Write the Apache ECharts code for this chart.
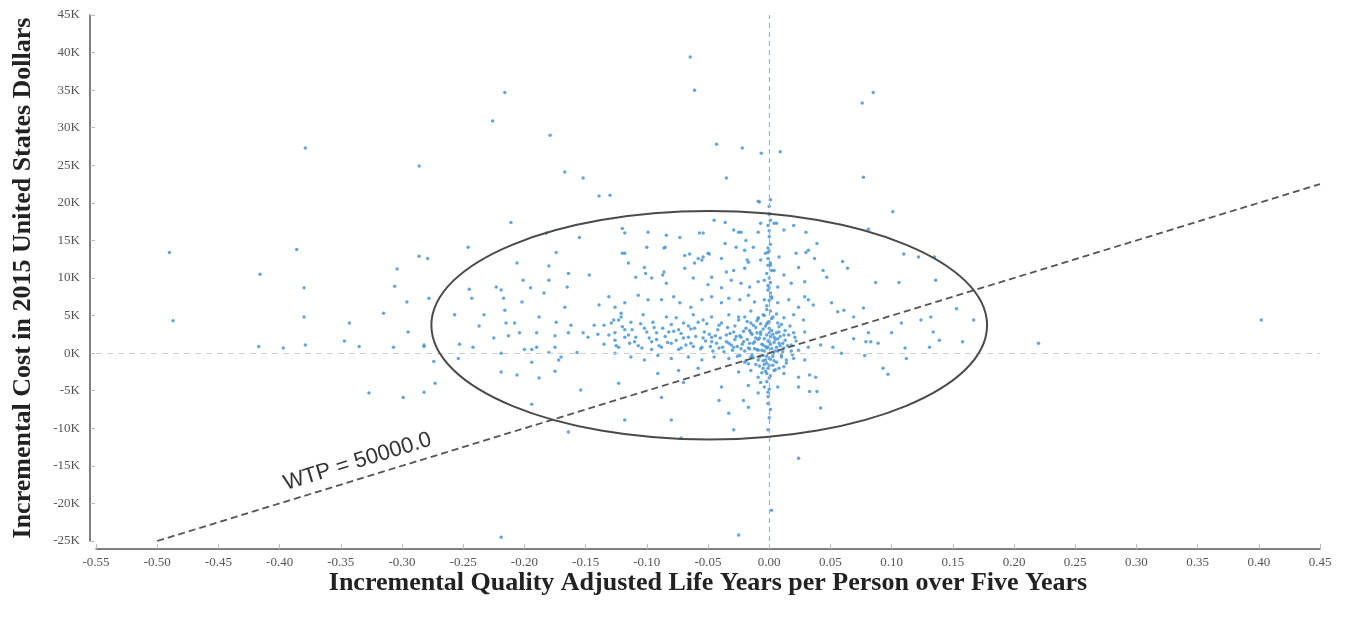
<!DOCTYPE html>
<html><head><meta charset="utf-8">
<script src="https://cdn.jsdelivr.net/npm/echarts@6/dist/echarts.min.js"></script>
<style>html,body{margin:0;padding:0;background:#fff}#c{width:1353px;height:622px}</style>
</head><body><div id="c"></div>
<script>
// ---- axes (min, max, interval) ----
const xAxisRange = [-0.55, 0.45, 0.05];
const yAxisRange = [-25000, 45000, 5000];
const xAxisTitle = 'Incremental Quality Adjusted Life Years per Person over Five Years';
const yAxisTitle = 'Incremental Cost in 2015 United States Dollars';

// ---- willingness-to-pay line ----
const wtpValue = 50000;
const wtpLabel = 'WTP = 50000.0';
const wtpLine = [[-0.50, -25000], [0.45, 22500]];

// ---- confidence ellipse: centre (x, y) and semi-axes (x, y) ----
const ellipseCenter = [-0.049, 3700];
const ellipseRadii = [0.227, 15200];

// ---- scattered simulation results far from the cluster ----
const outerPoints = [
[-0.490,13400],[-0.487,4300],[-0.379,27300],[-0.386,13800],[-0.380,8700],[-0.380,4800],[-0.416,10500],
[-0.417,900],[-0.397,700],[-0.379,1100],[-0.347,1600],[-0.335,900],[-0.307,800],[-0.282,900],[-0.343,4000],
[-0.315,5300],[-0.304,11200],[-0.306,8900],[-0.296,6800],[-0.295,2800],[-0.286,12900],[-0.279,12600],
[-0.327,-5300],[-0.299,-5900],[-0.282,-5200],[-0.286,24900],[-0.226,30900],[-0.216,34700],[-0.179,29000],
[-0.167,24100],[-0.152,23300],[-0.139,20900],[-0.130,21000],[-0.0645,39400],[-0.061,35000],[-0.043,27800],
[-0.022,27300],[-0.0065,26600],[0.009,26800],[-0.035,23300],[-0.009,20200],[0.076,33300],[0.085,34700],
[0.077,23400],[0.101,18800],[0.402,4400],[0.220,1300],[0.081,16500],[0.110,13200],[0.122,12800],[0.135,12800],
[0.087,9400],[0.106,9400],[0.136,9700],[0.153,5900],[0.167,4400],[0.158,1500],[0.139,1700],[0.111,700],
[-0.211,17400],[-0.246,14100],[-0.155,15400],[-0.273,-4000],[-0.274,-1100],[-0.219,-24500],[-0.025,-24200],
[0.002,-20900],[0.024,-14000],[-0.072,-11300],[-0.164,-10500],[-0.194,-6800],[-0.278,7300]
];

// ---- simulation results inside / around the ellipse ----
const leftPoints = [
[-0.174,13400],[-0.206,12000],[-0.180,11600],[-0.164,10600],[-0.147,10400],[-0.201,9700],[-0.180,9700],
[-0.245,8500],[-0.223,8800],[-0.219,8400],[-0.195,8700],[-0.165,8800],[-0.131,7500],[-0.243,7300],[-0.217,7300],
[-0.202,6800],[-0.184,8000],[-0.216,5700],[-0.257,5100],[-0.233,5100],[-0.188,4800],[-0.167,6100],[-0.174,4100],
[-0.139,6400],[-0.121,5300],[-0.237,3600],[-0.215,4000],[-0.208,4000],[-0.162,3700],[-0.143,3700],[-0.135,3700],
[-0.129,4000],[-0.123,4400],[-0.282,1100],[-0.253,1200],[-0.242,800],[-0.225,2000],[-0.213,2300],[-0.204,2700],
[-0.190,2700],[-0.175,2300],[-0.164,2700],[-0.152,2700],[-0.140,2500],[-0.131,2400],[-0.126,1700],[-0.148,2100],
[-0.135,1200],[-0.219,0],[-0.200,500],[-0.194,500],[-0.190,800],[-0.180,100],[-0.175,800],[-0.170,-500],
[-0.157,100],[-0.126,0],[-0.254,-700],[-0.194,-1200],[-0.172,-900],[-0.219,-2500],[-0.206,-2900],[-0.188,-3300],
[-0.175,-2400],[-0.154,-4900],[-0.182,16000]
];
const upperPoints = [
[-0.120,13300],[-0.100,14100],[-0.085,14100],[-0.065,13200],[-0.049,13200],[-0.036,14600],[-0.029,16400],
[-0.120,16600],[-0.073,15400],[-0.054,16000],[-0.045,17700],[-0.036,17400],[-0.023,16100],[-0.007,17300],
[0.004,17300],[-0.115,12000],[-0.101,10600],[-0.087,10400],[-0.061,12000],[-0.054,12800],[-0.029,11000],
[-0.018,12400],[-0.003,13300],[0.001,12000],[-0.008,20100],[0.001,20400],[0,18600],[0.001,17700],
[-0.118,16000],[-0.099,16100],[-0.084,15700],[-0.057,16000],[-0.025,16100],[-0.019,15000],[-0.009,16100],
[0.006,17300],[0.012,16400],[0.020,17000],[0.030,16100],
[-0.118,13300],[-0.086,14000],[-0.069,13000],[-0.058,12600],[-0.050,13300],[-0.039,12600],[-0.027,14100],
[-0.020,13700],[-0.013,14100],[-0.001,13400],[0.008,12800],[0.022,13300],[0.032,13700],
[-0.102,11400],[-0.086,10800],[-0.069,11300],[-0.055,12400],[-0.047,10100],[-0.035,10800],[-0.020,11300],
[-0.017,12100],[-0.007,12400],[-0.001,11700],[0.004,11000],[0.012,10400],[0.024,11400],
[-0.109,10100],[-0.096,10000],[-0.084,9300],[-0.062,10000],[-0.050,9100],[-0.039,8700],[-0.031,9700],
[-0.023,9300],[-0.016,8800],[-0.009,9500],[-0.004,9700],[0,8700],[0.007,8800],[0.018,9300],[0.029,9500]
];
const middlePoints = [
[-0.126,6100],[-0.118,6700],[-0.107,7700],[-0.099,7100],[-0.088,7100],[-0.078,7500],[-0.073,6700],[-0.064,6100],
[-0.055,7100],[-0.047,7500],[-0.039,6700],[-0.033,7300],[-0.024,7100],[-0.017,7700],[-0.012,6800],[-0.004,7100],
[0.002,7500],[0.007,6700],[0.016,7100],[0.024,6100],[0.032,7100],
[-0.127,4400],[-0.121,4800],[-0.113,4100],[-0.103,5100],[-0.095,4100],[-0.084,4800],[-0.076,4700],[-0.070,4000],
[-0.062,5100],[-0.054,4400],[-0.047,4800],[-0.039,4000],[-0.033,5100],[-0.025,4400],[-0.020,4800],[-0.015,4000],
[-0.009,4700],[-0.005,5100],[-0.001,4100],[0.003,4800],[0.007,4000],[0.012,4700],[0.020,5100],[0.028,4400],
[-0.126,2700],[-0.118,3100],[-0.109,2100],[-0.102,3300],[-0.092,2700],[-0.082,2800],[-0.074,3100],[-0.066,2100],
[-0.061,3300],[-0.053,2800],[-0.047,2100],[-0.042,3100],[-0.035,2400],[-0.029,2800],[-0.023,2100],[-0.019,3300],
[-0.015,2700],[-0.011,2000],[-0.007,2800],[-0.002,2400],[0,3300],[0.004,2100],[0.008,2800],[0.012,2400],
[0.020,2700],[0.029,2800],
[-0.123,800],[-0.114,1300],[-0.104,700],[-0.096,1500],[-0.088,800],[-0.080,1300],[-0.072,700],[-0.064,1300],
[-0.055,800],[-0.047,1500],[-0.041,700],[-0.033,1300],[-0.029,800],[-0.021,1500],[-0.017,700],[-0.013,1300],
[-0.009,400],[-0.005,1100],[-0.002,700],[0,1500],[0.003,100],[0.006,800],[0.008,1300],[0.012,700],[0.018,1100],
[0.024,400],[0.032,800]
];
const lowerPoints = [
[-0.113,-500],[-0.102,-900],[-0.091,-300],[-0.080,-700],[-0.066,-500],[-0.055,-900],[-0.045,-500],[-0.033,-700],
[-0.024,-300],[-0.020,-1200],[-0.015,-500],[-0.009,-900],[-0.005,-300],[-0.002,-1300],[0,-700],[0.003,0],
[0.006,-1200],[0.010,-500],[0.014,-1300],[0.020,-700],[0.029,-900],
[-0.091,-2700],[-0.074,-2300],[-0.058,-2000],[-0.025,-2500],[-0.015,-2300],[-0.009,-3200],[-0.005,-2000],
[-0.002,-2700],[0,-3300],[0.004,-2300],[0.012,-2700],[0.024,-3200],
[-0.070,-3900],[-0.039,-4500],[-0.017,-4300],[-0.007,-3900],[-0.004,-4500],[-0.001,-5200],[-0.009,-5300],
[0.007,-4500],[0.024,-4500],[-0.088,-5900],[-0.041,-6300],[-0.021,-6300],[-0.017,-7200],[-0.001,-6700],
[-0.123,-4000],[-0.118,-8900],[-0.080,-8900],[-0.033,-8000],[-0.029,-10200],[-0.001,-10200]
];
const rightPoints = [
[0.039,14600],[0.037,12600],[0.030,13400],[0.060,12200],[0.064,11300],[0.044,11000],[0.047,10100],[0.029,7500],
[0.036,6400],[0.051,6700],[0.061,5700],[0.077,6000],[0.056,5500],[0.069,4800],[0.108,4000],[0.124,4400],
[0.132,4800],[0.134,2800],[0.131,800],[0.081,2700],[0.100,2700],[0.069,1900],[0.079,1500],[0.083,1500],
[0.089,1300],[0.042,1100],[0.052,800],[0.059,0],[0.078,-300],[0.112,-700],[0.093,-2000],[0.097,-2800],
[0.033,-2900],[0.038,-3200],[0.033,-5100],[0.039,-5100],[0.042,-7300]
];
const densePoints = [
[-0.004,300],[-0.003,900],[-0.001,1600],[0.001,2200],[0.002,600],[-0.006,1200],[-0.008,2000],[0.004,1400],
[0.005,300],[-0.002,-400],[0.001,-800],[-0.005,-1000],[0.003,-1600],[-0.001,-2000],[0.002,3000],[-0.003,3600],
[0.000,4200],[-0.004,5000],[0.001,5600],[-0.002,6300],[0.000,7000],[0.001,8000],[-0.001,9000],[0.000,10000],
[0.002,11000],[-0.001,12600],[0.000,13600],[0.001,14500],[0.000,15500],[-0.001,17000],[0.000,18500],[0.000,19500],
[-0.010,500],[-0.012,1500],[-0.014,2500],[-0.011,3400],[-0.016,600],[-0.018,1800],[-0.020,300],[-0.022,1200],
[-0.024,2300],[-0.013,-600],[-0.017,-1400],[-0.008,-1700],[-0.007,3900],[-0.009,4600],[0.007,1900],[0.009,1000],
[0.011,200],[0.013,1700],[0.006,2700],[0.008,3500],[0.010,-300],[0.014,-900],[0.005,-2200],[-0.006,-2600],
[-0.010,2700],[-0.026,900],[-0.028,1800],[-0.030,400],[-0.032,2600],[-0.035,1500],[-0.038,800],[-0.040,2000],
[-0.043,1300],[-0.046,300],[-0.049,2500],[-0.052,1600],[-0.056,600],[-0.060,2200],[-0.064,3200],[-0.068,1100],
[-0.072,2600],[-0.076,1700],[-0.080,3800],[-0.085,2200],[-0.090,1000],[-0.094,3400],[-0.098,2000],[-0.105,3900],
[-0.110,1500],[-0.115,2400],[-0.120,3500],[-0.125,1000],[-0.016,3000],[-0.004,-1500],[0.003,-400],[0.016,2400],
[0.018,300],[0.022,1600]
];
const corePoints = [
[-0.028,3600],[-0.026,-400],[-0.025,4800],[-0.023,600],[-0.021,2900],[-0.019,-1000],[-0.018,4200],[-0.016,1300],
[-0.015,5600],[-0.014,-200],[-0.013,3700],[-0.012,600],[-0.011,-1500],[-0.010,4300],[-0.009,1800],[-0.008,-500],
[-0.007,2500],[-0.006,400],[-0.005,3200],[-0.004,1900],[-0.003,-900],[-0.002,3900],[-0.001,800],[0.000,2700],
[0.000,-1600],[0.001,1200],[0.002,4600],[0.003,2500],[0.004,-1000],[0.005,1800],[0.006,5200],[0.007,300],
[0.008,-2000],[0.009,2200],[0.010,3800],[0.011,1300],[0.012,-1800],[0.013,3000],[0.015,1000],[0.017,3600],
[0.019,-200],[0.021,2100],[-0.027,2200],[-0.031,1100],[-0.034,3400],[-0.037,200],[-0.041,3700],[-0.044,2300],
[-0.048,900],[-0.051,3900],[-0.054,2000],[-0.058,4100],[-0.062,900],[-0.066,3600],[-0.070,2000],[-0.074,500],
[-0.078,2900],[-0.083,1400],[-0.087,3300],[-0.092,1800],[-0.096,500],[-0.100,2800],[-0.107,1000],[-0.112,3100],
[-0.118,2100],[-0.003,-2400],[0.001,-3000],[-0.002,-3800],[0.000,-4800],[-0.001,-5800],[0.001,-7500],
[0.000,-8600],[-0.001,14000],[0.000,16300],[0.001,11700],[-0.002,10600],[0.001,9400],[-0.001,8400],
[0.002,7300],[-0.002,5800]
];

const allPoints = [].concat(outerPoints, leftPoints, upperPoints, middlePoints, lowerPoints, rightPoints, densePoints, corePoints);

const serif = '"Liberation Serif", "Times New Roman", serif';
const chart = echarts.init(document.getElementById('c'));
chart.setOption({
  animation: false,
  backgroundColor: '#ffffff',
  grid: { left: 96, right: 33, top: 15, bottom: 81, containLabel: false, outerBoundsMode: 'none' },
  xAxis: {
    type: 'value', min: xAxisRange[0], max: xAxisRange[1], interval: xAxisRange[2], offset: 8,
    name: xAxisTitle, nameLocation: 'middle', nameGap: 21, nameMoveOverlap: false,
    nameTextStyle: { fontFamily: serif, fontWeight: 'bold', fontSize: 26, color: '#222' },
    axisLine: { show: true, onZero: false, lineStyle: { color: '#555', width: 1.5 } },
    axisTick: { show: true, inside: true, length: 5, lineStyle: { color: '#bbb' } },
    axisLabel: { fontFamily: serif, fontSize: 13, color: '#555', margin: 7,
      formatter: v => (Math.abs(v) < 1e-9 ? 0 : v).toFixed(2) },
    splitLine: { show: false }
  },
  yAxis: {
    type: 'value', min: yAxisRange[0], max: yAxisRange[1], interval: yAxisRange[2], offset: 6,
    name: yAxisTitle, nameLocation: 'middle', nameGap: 54, nameRotate: 90, nameMoveOverlap: false,
    nameTextStyle: { fontFamily: serif, fontWeight: 'bold', fontSize: 26, color: '#222' },
    axisLine: { show: true, onZero: false, lineStyle: { color: '#555', width: 1.5 } },
    axisTick: { show: true, inside: true, length: 5, lineStyle: { color: '#bbb' } },
    axisLabel: { fontFamily: serif, fontSize: 13, color: '#555', margin: 10,
      formatter: v => Math.round(v / 1000) + 'K' },
    splitLine: { show: false }
  },
  series: [
    {
      type: 'scatter', data: allPoints, symbolSize: 3.5,
      itemStyle: { color: '#4a98d6', opacity: 0.85 }, silent: true, z: 3,
      markLine: {
        silent: true, symbol: 'none', animation: false,
        label: { show: false },
        data: [
          { xAxis: 0, lineStyle: { color: '#9fb2c6', type: [5, 4], width: 1.2 } },
          { yAxis: 0, lineStyle: { color: '#cfcfcf', type: [6, 5], width: 1.2 } }
        ]
      }
    },
    {
      type: 'scatter', data: [], silent: true, z: 4,
      markLine: {
        silent: true, symbol: 'none', animation: false,
        lineStyle: { color: '#555', type: [7, 4], width: 1.8 },
        label: {
          show: true, position: 'insideStartTop', distance: [138, 6],
          formatter: wtpLabel, fontFamily: '"Liberation Sans", Arial, sans-serif',
          fontSize: 22, color: '#333'
        },
        data: [[{ coord: wtpLine[0] }, { coord: wtpLine[1] }]]
      }
    },
    {
      type: 'custom', silent: true, z: 5,
      data: [[ellipseCenter[0], ellipseCenter[1], ellipseRadii[0], ellipseRadii[1]]],
      encode: { x: 0, y: 1 },
      renderItem: function (params, api) {
        const c = api.coord([api.value(0), api.value(1)]);
        const s0 = api.coord([api.value(0) + api.value(2), api.value(1) + api.value(3)]);
        const rx = Math.abs(s0[0] - c[0]);
        const ry = Math.abs(s0[1] - c[1]);
        return {
          type: 'ellipse',
          shape: { cx: c[0], cy: c[1], rx: rx, ry: ry },
          style: { fill: 'none', stroke: '#4a4a4a', lineWidth: 2 }
        };
      }
    }
  ]
});
</script>
</body></html>
